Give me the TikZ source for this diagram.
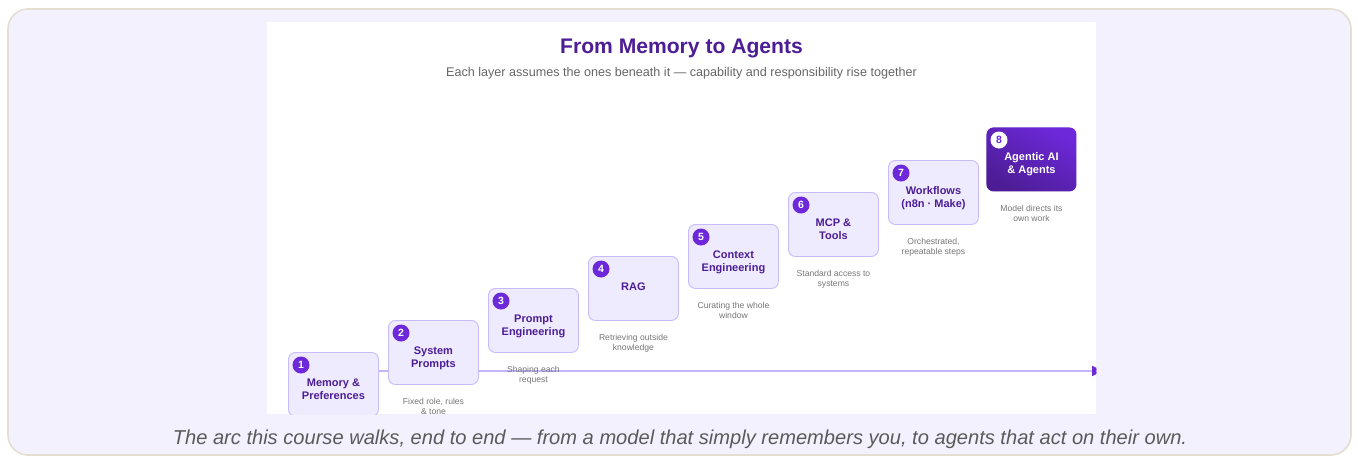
\documentclass[tikz,border=0pt]{standalone}
\usepackage{fontspec}
\setmainfont{Liberation Sans}
\usetikzlibrary{arrows.meta}
\definecolor{frameFill}{HTML}{F3F1FE}
\definecolor{frameLine}{HTML}{E4DED2}
\definecolor{boxFill}{HTML}{EFEBFE}
\definecolor{boxLine}{HTML}{C9BBFB}
\definecolor{boxText}{HTML}{4C1D95}
\definecolor{badge}{HTML}{6D28D9}
\definecolor{deep}{HTML}{4C1D95}
\definecolor{descGrey}{HTML}{777777}
\definecolor{subGrey}{HTML}{666666}
\definecolor{capGrey}{HTML}{5A5A5A}
\definecolor{axisLine}{HTML}{C4B5FD}
\begin{document}
\begin{tikzpicture}[x=1pt,y=-1pt,
  stepbox/.style={draw=boxLine, line width=0.9pt, fill=boxFill, rounded corners=7pt,
    minimum width=90pt, minimum height=64pt, inner sep=0pt, anchor=north west},
  badgenode/.style={circle, fill=badge, text=white, minimum size=17pt, inner sep=0pt,
    font=\bfseries\fontsize{10.5}{10.5}\selectfont},
  boxlabel/.style={anchor=north, inner sep=0pt, align=center, text=boxText,
    font=\bfseries\fontsize{11}{13}\selectfont},
  desclabel/.style={anchor=north, inner sep=0pt, align=center, text=descGrey,
    font=\fontsize{8.6}{10}\selectfont}]
\useasboundingbox (0,0) rectangle (1358,459);
% outer frame
\draw[fill=frameFill, draw=frameLine, line width=1.6pt, rounded corners=20pt] (8,9) rectangle (1351,455);
% white panel
\node[fill=white, inner sep=0pt, minimum width=829pt, minimum height=392pt, anchor=north west] (panel) at (267,22) {};
% title
\node[text=deep, font=\bfseries\fontsize{21.1}{24}\selectfont] (title) at (681.5,48) {From Memory to Agents};
\node[text=subGrey, font=\fontsize{12.6}{14}\selectfont] (subtitle) at (681.5,73) {Each layer assumes the ones beneath it — capability and responsibility rise together};
% caption
\node[text=capGrey, font=\itshape\fontsize{20.1}{22}\selectfont] (caption) at (680,439) {The arc this course walks, end to end — from a model that simply remembers you, to agents that act on their own.};
\begin{scope}
\clip (panel.north west) rectangle (panel.south east);
\coordinate (axisS) at (378,371);
\coordinate (axisE) at (1103,371);
\draw[axisLine, line width=2pt, -{Triangle[length=11pt,width=10pt,color=badge]}] (axisS) -- (axisE);
\foreach \n/\lab/\desc in {
  1/{Memory \&\\Preferences}/{},
  2/{System\\Prompts}/{Fixed role, rules\\\& tone},
  3/{Prompt\\Engineering}/{Shaping each\\request},
  4/{RAG}/{Retrieving outside\\knowledge},
  5/{Context\\Engineering}/{Curating the whole\\window},
  6/{MCP \&\\Tools}/{Standard access to\\systems},
  7/{Workflows\\(n8n · Make)}/{Orchestrated,\\repeatable steps}}{
  \node[stepbox] (b\n) at ({288+100*(\n-1)},{352-32*(\n-1)}) {};
  \node[badgenode] (g\n) at ([xshift=13pt,yshift=-13pt]b\n.north west) {\n};
  \node[boxlabel] (t\n) at ([yshift=-26.5pt]b\n.north) {\lab};
  \node[desclabel] (d\n) at ([yshift=-13pt]b\n.south) {\desc};
}
% box 8
\node[stepbox, draw=none, top color=badge, bottom color=deep, shading angle=-30] (b8) at (986,127) {};
\node[badgenode, fill=white, text=badge] (g8) at ([xshift=13pt,yshift=-13pt]b8.north west) {8};
\node[boxlabel, text=white] (t8) at ([yshift=-25pt]b8.north) {Agentic AI\\\& Agents};
\node[desclabel] (d8) at ([yshift=-13pt]b8.south) {Model directs its\\own work};
\end{scope}
\end{tikzpicture}
\end{document}
